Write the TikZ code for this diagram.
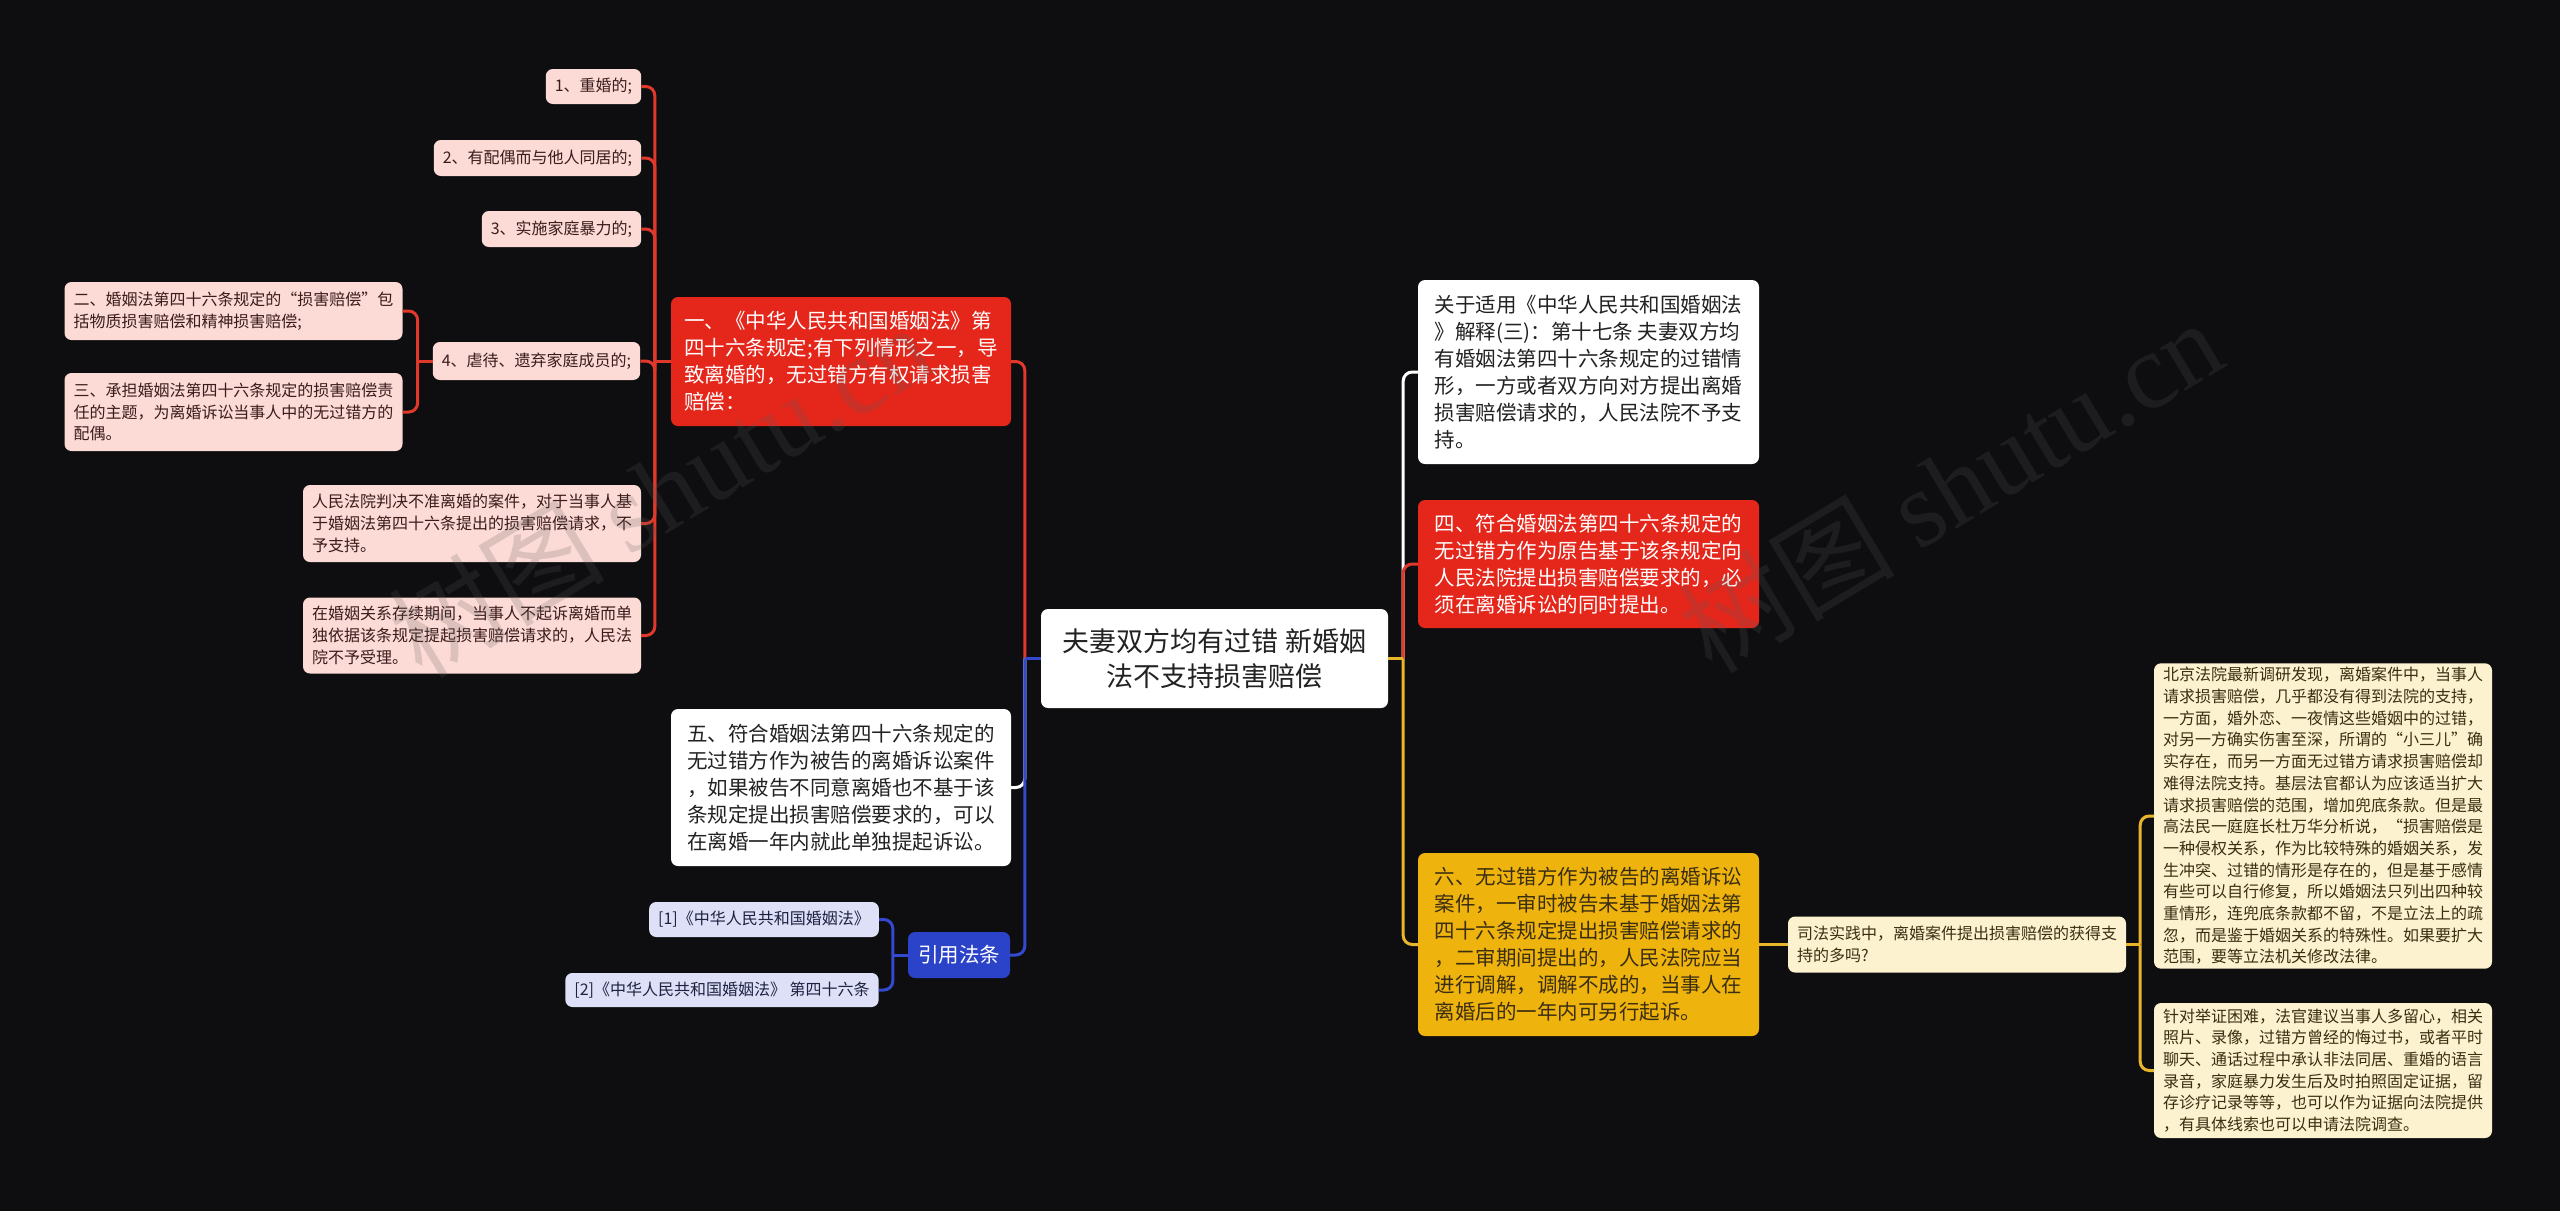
\documentclass[tikz,border=0pt]{standalone}
\usepackage{fontspec}
\setmainfont{Noto Sans CJK SC}
\newfontfamily\wmlatin{Liberation Serif}
\usetikzlibrary{calc}
\definecolor{bg}{HTML}{0E0E10}
\definecolor{redn}{HTML}{E5261B}
\definecolor{redl}{HTML}{E0392B}
\definecolor{pinkf}{HTML}{FCDAD5}
\definecolor{pinkt}{HTML}{3A1C1C}
\definecolor{bluen}{HTML}{2B43C9}
\definecolor{bluel}{HTML}{3549CF}
\definecolor{lavf}{HTML}{DDE0F7}
\definecolor{lavt}{HTML}{1E2240}
\definecolor{yeln}{HTML}{EFB30E}
\definecolor{yell}{HTML}{E9B52A}
\definecolor{creamf}{HTML}{FDF2D0}
\definecolor{creamt}{HTML}{3A2E12}
\definecolor{whitet}{HTML}{222222}
\definecolor{wmark}{HTML}{5C5C5C}
\begin{document}
\begin{tikzpicture}[x=1pt,y=-1pt,
  base/.style={rectangle, rounded corners=7pt, inner xsep=9pt, inner ysep=4pt, align=left},
  smallf/.style={font=\fontsize{16}{21.7}\selectfont},
  bigf/.style={font=\fontsize{20.5}{27}\selectfont},
  pinkbox/.style={base, smallf, fill=pinkf, text=pinkt},
  lavbox/.style={base, smallf, fill=lavf, text=lavt},
  creambox/.style={base, smallf, fill=creamf, text=creamt},
  redbox/.style={base, bigf, fill=redn, text=white},
  whitebox/.style={base, bigf, fill=white, text=whitet},
  yelbox/.style={base, bigf, fill=yeln, text=creamt},
  bluebox/.style={base, bigf, fill=bluen, text=white},
  conn/.style={line width=3pt, rounded corners=9pt},
  wm/.style={rotate=31, opacity=0.2, text=wmark, font=\fontsize{108}{108}\selectfont}
]
\fill[bg] (0,0) rectangle (2560,1211);
\useasboundingbox (0,0) rectangle (2560,1211);

% center
\node[base, align=center, fill=white, text=whitet, font=\fontsize{27}{35}\selectfont,
  minimum width=347pt, minimum height=99pt] (ctr) at (1214.5,658.5)
  {夫妻双方均有过错 新婚姻\\法不支持损害赔偿};

% left branch: red
\node[redbox, minimum width=340pt, minimum height=129pt] (red1) at (841,361.5)
  {一、《中华人民共和国婚姻法》第\\四十六条规定;有下列情形之一，导\\致离婚的，无过错方有权请求损害\\赔偿：};
\node[pinkbox, minimum width=93pt, minimum height=35pt] (c1) at (593.5,86.5) {1、重婚的;};
\node[pinkbox, minimum width=205pt, minimum height=36pt] (c2) at (537.5,158) {2、有配偶而与他人同居的;};
\node[pinkbox, minimum width=157pt, minimum height=36pt] (c3) at (561.5,229) {3、实施家庭暴力的;};
\node[pinkbox, minimum width=207pt, minimum height=38pt] (c4) at (536.5,361) {4、虐待、遗弃家庭成员的;};
\node[pinkbox, minimum width=336pt, minimum height=77pt] (c5) at (472,523.5)
  {人民法院判决不准离婚的案件，对于当事人基\\于婚姻法第四十六条提出的损害赔偿请求，不\\予支持。};
\node[pinkbox, minimum width=336pt, minimum height=76pt] (c6) at (472,635.5)
  {在婚姻关系存续期间，当事人不起诉离婚而单\\独依据该条规定提起损害赔偿请求的，人民法\\院不予受理。};
\node[pinkbox, minimum width=337pt, minimum height=58pt] (d1) at (233.5,311)
  {二、婚姻法第四十六条规定的“损害赔偿”包\\括物质损害赔偿和精神损害赔偿;};
\node[pinkbox, minimum width=337pt, minimum height=78pt] (d2) at (233.5,412)
  {三、承担婚姻法第四十六条规定的损害赔偿责\\任的主题，为离婚诉讼当事人中的无过错方的\\配偶。};

% left branch: white
\node[whitebox, minimum width=340pt, minimum height=157pt] (w5) at (841,787.5)
  {五、符合婚姻法第四十六条规定的\\无过错方作为被告的离婚诉讼案件\\，如果被告不同意离婚也不基于该\\条规定提出损害赔偿要求的，可以\\在离婚一年内就此单独提起诉讼。};

% left branch: blue
\node[bluebox, minimum width=102pt, minimum height=46pt] (cite) at (959,955) {引用法条};
\node[lavbox, minimum width=228pt, minimum height=35pt] (r1) at (764,919.5) {[1]《中华人民共和国婚姻法》};
\node[lavbox, minimum width=312pt, minimum height=34pt] (r2) at (722,990) {[2]《中华人民共和国婚姻法》 第四十六条};

% right branches
\node[whitebox, minimum width=341pt, minimum height=184pt] (R1) at (1588.5,372)
  {关于适用《中华人民共和国婚姻法\\》解释(三)：第十七条 夫妻双方均\\有婚姻法第四十六条规定的过错情\\形，一方或者双方向对方提出离婚\\损害赔偿请求的，人民法院不予支\\持。};
\node[redbox, minimum width=341pt, minimum height=128pt] (R2) at (1588.5,564)
  {四、符合婚姻法第四十六条规定的\\无过错方作为原告基于该条规定向\\人民法院提出损害赔偿要求的，必\\须在离婚诉讼的同时提出。};
\node[yelbox, minimum width=341pt, minimum height=183pt] (R3) at (1588.5,944.5)
  {六、无过错方作为被告的离婚诉讼\\案件，一审时被告未基于婚姻法第\\四十六条规定提出损害赔偿请求的\\，二审期间提出的，人民法院应当\\进行调解，调解不成的，当事人在\\离婚后的一年内可另行起诉。};
\node[creambox, minimum width=336pt, minimum height=56pt] (S) at (1957,944.5)
  {司法实践中，离婚案件提出损害赔偿的获得支\\持的多吗?};
\node[creambox, minimum width=336pt, minimum height=304pt] (T1) at (2323,816)
  {北京法院最新调研发现，离婚案件中，当事人\\请求损害赔偿，几乎都没有得到法院的支持，\\一方面，婚外恋、一夜情这些婚姻中的过错，\\对另一方确实伤害至深，所谓的“小三儿”确\\实存在，而另一方面无过错方请求损害赔偿却\\难得法院支持。基层法官都认为应该适当扩大\\请求损害赔偿的范围，增加兜底条款。但是最\\高法民一庭庭长杜万华分析说，“损害赔偿是\\一种侵权关系，作为比较特殊的婚姻关系，发\\生冲突、过错的情形是存在的，但是基于感情\\有些可以自行修复，所以婚姻法只列出四种较\\重情形，连兜底条款都不留，不是立法上的疏\\忽，而是鉴于婚姻关系的特殊性。如果要扩大\\范围，要等立法机关修改法律。};
\node[creambox, minimum width=336pt, minimum height=135pt] (T2) at (2323,1070.5)
  {针对举证困难，法官建议当事人多留心，相关\\照片、录像，过错方曾经的悔过书，或者平时\\聊天、通话过程中承认非法同居、重婚的语言\\录音，家庭暴力发生后及时拍照固定证据，留\\存诊疗记录等等，也可以作为证据向法院提供\\，有具体线索也可以申请法院调查。};

% junctions
\coordinate (jR) at ($(red1.west)+(-16,0)$);
\coordinate (j4) at ($(c4.west)+(-15,0)$);
\coordinate (jL) at ($(ctr.west)+(-16,0)$);
\coordinate (jC) at ($(cite.west)+(-15,0)$);
\coordinate (jRt) at ($(ctr.east)+(15,0)$);
\coordinate (jS) at ($(S.east)+(14,0)$);

% connectors
\draw[conn, redl] (red1.west) -- (jR);
\foreach \n in {c1,c2,c3,c4,c5,c6} \draw[conn, redl] (jR) |- (\n.east);
\draw[conn, redl] (c4.west) -- (j4);
\draw[conn, redl] (j4) |- (d1.east);
\draw[conn, redl] (j4) |- (d2.east);

\draw[conn, redl] (jL) |- (red1.east);
\draw[conn, white] (jL) |- (w5.east);
\draw[conn, bluel] (jL) |- (cite.east);
\draw[conn, bluel] (ctr.west) -- (jL);
\draw[conn, bluel] (cite.west) -- (jC);
\draw[conn, bluel] (jC) |- (r1.east);
\draw[conn, bluel] (jC) |- (r2.east);

\draw[conn, white] (jRt) |- (R1.west);
\draw[conn, redl] (jRt) |- (R2.west);
\draw[conn, yell] (jRt) |- (R3.west);
\draw[conn, yell] (ctr.east) -- (jRt);
\draw[conn, yell] (R3.east) -- (S.west);
\draw[conn, yell] (S.east) -- (jS);
\draw[conn, yell] (jS) |- (T1.west);
\draw[conn, yell] (jS) |- (T2.west);

% watermarks (drawn on top, faint)
\node[wm] (wm1) at (660,490) {树图 {\wmlatin shutu.cn}};
\node[wm] (wm2) at (1950,485) {树图 {\wmlatin shutu.cn}};
\end{tikzpicture}
\end{document}
